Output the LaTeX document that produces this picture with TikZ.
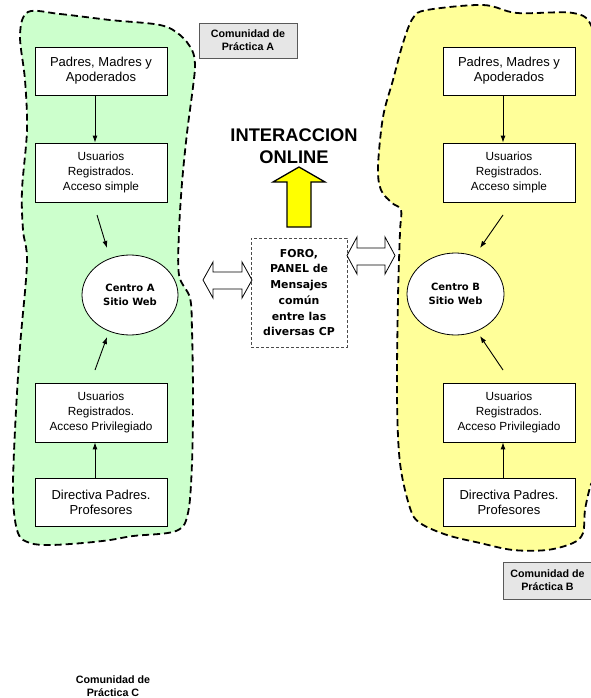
\documentclass[tikz,border=0pt]{standalone}
\usepackage{fontspec}
\setmainfont{Liberation Sans}
\newfontfamily\tah{DejaVu Sans}
\usetikzlibrary{shapes.geometric,arrows.meta}
\definecolor{blobgreen}{HTML}{CCFFCC}
\definecolor{blobyellow}{HTML}{FFFF99}
\definecolor{arrowyellow}{HTML}{FFFF00}
\definecolor{comgray}{HTML}{E6E6E6}
\begin{document}
\begin{tikzpicture}[x=1pt,y=-1pt,
  blob/.style={line width=1.8pt, dash pattern=on 7pt off 4pt},
  box/.style={draw=black, line width=0.8pt, fill=white, minimum width=132pt, align=center, inner sep=2pt},
  bigtxt/.style={font=\fontsize{13}{15}\selectfont},
  smalltxt/.style={font=\fontsize{11.8}{14.7}\selectfont},
  arr/.style={-{Latex[length=7pt,width=5pt]}, line width=0.9pt},
  web/.style={ellipse, draw=black, line width=0.8pt, fill=white, align=center, inner sep=0pt,
    font=\tah\bfseries\fontsize{10}{13.3}\selectfont},
  com/.style={draw=black!65, line width=0.8pt, fill=comgray, align=center, inner sep=1pt,
    font=\bfseries\fontsize{10.7}{13}\selectfont},
  dbl/.style={draw=black, line width=0.8pt, fill=white}
]
\useasboundingbox (0,0) rectangle (590,698);

% community blobs
\fill[blobgreen] plot[smooth cycle, tension=0.55] coordinates {
  (28,12) (60,14) (110,20) (160,25) (180,35) (192,50) (195,65) (193,87) (187,133) (182,183)
  (179,232) (179,275) (190,298) (192,330) (193,397) (192,463) (188,513) (176,531)
  (133,536) (110,540) (83,543) (50,545) (30,543) (18,533) (13,497) (15,430) (20,347)
  (27,263) (23,230) (22,190) (27,130) (25,80) (20,35)};
\draw[blob] plot[smooth cycle, tension=0.55] coordinates {
  (28,12) (60,14) (110,20) (160,25) (180,35) (192,50) (195,65) (193,87) (187,133) (182,183)
  (179,232) (179,275) (190,298) (192,330) (193,397) (192,463) (188,513) (176,531)
  (133,536) (110,540) (83,543) (50,545) (30,543) (18,533) (13,497) (15,430) (20,347)
  (27,263) (23,230) (22,190) (27,130) (25,80) (20,35)};

\fill[blobyellow] plot[smooth cycle, tension=0.55] coordinates {
  (427,10) (483,5) (517,13) (573,13) (592,27) (606,80) (609,250) (600,450) (590,487)
  (585,510) (583,533) (573,543) (547,550) (513,550) (480,543) (447,535) (420,523)
  (410,508) (400,463) (397,397) (398,297) (400,232) (401,210) (392,203) (381,190)
  (378,167) (383,117) (393,80) (403,43) (413,18)};
\draw[blob] plot[smooth cycle, tension=0.55] coordinates {
  (427,10) (483,5) (517,13) (573,13) (592,27) (606,80) (609,250) (600,450) (590,487)
  (585,510) (583,533) (573,543) (547,550) (513,550) (480,543) (447,535) (420,523)
  (410,508) (400,463) (397,397) (398,297) (400,232) (401,210) (392,203) (381,190)
  (378,167) (383,117) (393,80) (403,43) (413,18)};

% left community
\node[box, bigtxt, minimum height=48pt] (pA) at (101,71) {Padres, Madres y\\Apoderados};
\node[box, smalltxt, minimum height=59pt] (usA) at (101,172.5) {Usuarios\\Registrados.\\Acceso simple};
\node[web, minimum width=96pt, minimum height=80pt] (cA) at (130,295) {Centro A\\Sitio Web};
\node[box, smalltxt, minimum height=59pt] (upA) at (101,412.5) {Usuarios\\Registrados.\\Acceso Privilegiado};
\node[box, bigtxt, minimum height=48pt] (dA) at (101,502) {Directiva Padres.\\Profesores};

\draw[arr] ([xshift=-6pt]pA.south) -- ([xshift=-6pt]usA.north);
\draw[arr] ([xshift=-6pt]dA.north) -- ([xshift=-6pt]upA.south);
\coordinate (a1s) at (97,215); \coordinate (a1e) at (107,248);
\coordinate (a2s) at (95,370); \coordinate (a2e) at (107,337);
\draw[arr] (a1s) -- (a1e);
\draw[arr] (a2s) -- (a2e);

% right community
\node[box, bigtxt, minimum height=48pt] (pB) at (509,71) {Padres, Madres y\\Apoderados};
\node[box, smalltxt, minimum height=59pt] (usB) at (509,172.5) {Usuarios\\Registrados.\\Acceso simple};
\node[web, minimum width=97pt, minimum height=82pt] (cB) at (455.5,294) {Centro B\\Sitio Web};
\node[box, smalltxt, minimum height=59pt] (upB) at (509,412.5) {Usuarios\\Registrados.\\Acceso Privilegiado};
\node[box, bigtxt, minimum height=48pt] (dB) at (509,502) {Directiva Padres.\\Profesores};

\draw[arr] ([xshift=-6pt]pB.south) -- ([xshift=-6pt]usB.north);
\draw[arr] ([xshift=-6pt]dB.north) -- ([xshift=-6pt]upB.south);
\coordinate (b1s) at (503,215); \coordinate (b1e) at (480,248);
\coordinate (b2s) at (503,370); \coordinate (b2e) at (480,336);
\draw[arr] (b1s) -- (b1e);
\draw[arr] (b2s) -- (b2e);

% community labels
\node[com, minimum width=98pt, minimum height=35pt] (comA) at (248,40.5) {Comunidad de\\Práctica A};
\node[com, minimum width=89pt, minimum height=37pt] (comB) at (547.5,580.5) {Comunidad de\\Práctica B};
\node[font=\bfseries\fontsize{10.7}{13}\selectfont, align=center] (comC) at (113,686) {Comunidad de\\Práctica C};

% centre
\node[font=\bfseries\fontsize{18.3}{22}\selectfont, align=center] (inter) at (294,146) {INTERACCION\\ONLINE};
\draw[line width=1.3pt, fill=arrowyellow] (299,167) -- (325,182) -- (311,182) -- (311,227)
  -- (287,227) -- (287,182) -- (273,182) -- cycle;

\node[draw=black!70, line width=0.8pt, dash pattern=on 3pt off 2pt, fill=white,
  minimum width=96pt, minimum height=109pt, align=center, inner sep=0pt,
  font=\tah\bfseries\fontsize{10.9}{15.7}\selectfont] (foro) at (299,292.5)
  {FORO,\\PANEL de\\Mensajes\\común\\entre las\\diversas CP};

\draw[dbl] (203,280) -- (213,262) -- (213,272) -- (242,272) -- (242,262) -- (252,280)
  -- (242,298) -- (242,289) -- (213,289) -- (213,298) -- cycle;
\draw[dbl] (347,255.5) -- (357,237) -- (357,248) -- (385,248) -- (385,237) -- (395,255.5)
  -- (385,274) -- (385,265) -- (357,265) -- (357,274) -- cycle;
\end{tikzpicture}
\end{document}
